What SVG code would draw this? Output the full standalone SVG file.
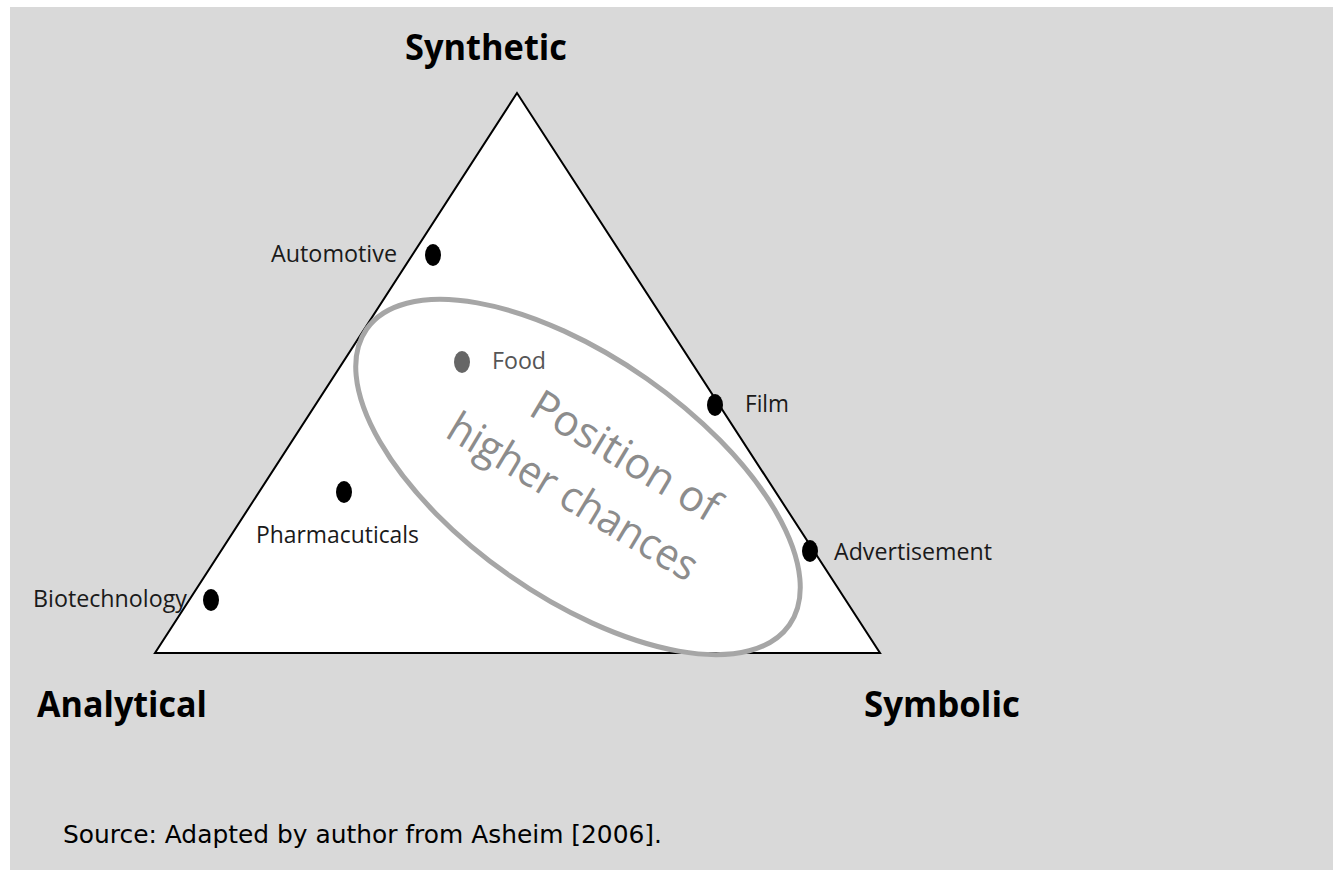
<svg xmlns="http://www.w3.org/2000/svg" width="1333" height="870" viewBox="0 0 1333 870">
<style>
.title{font-family:"Open Sans","Liberation Sans",sans-serif;font-weight:bold;font-size:36px;fill:#000}
.lbl{font-family:"Open Sans","Liberation Sans",sans-serif;font-size:23px;fill:#1a1a1a}
.dot{fill:#000}
.big{font-family:"Open Sans","Liberation Sans",sans-serif;font-size:43px;fill:#8c8c8c}
.src{font-family:"DejaVu Sans","Liberation Sans",sans-serif;font-size:25px;fill:#000}
</style>
<rect x="0" y="0" width="1333" height="870" fill="#ffffff"/>
<rect x="10" y="7" width="1323" height="863" fill="#d9d9d9"/>
<g id="triangle">
<polygon points="517,93 155,653 880,653" fill="#ffffff" stroke="#000" stroke-width="2"/>
</g>
<g id="region">
<ellipse cx="578" cy="477" rx="258" ry="120" transform="rotate(35 578 477)" fill="none" stroke="#a6a6a6" stroke-width="5"/>
<g transform="translate(527,414) rotate(31)">
<text class="big" x="0" y="0" textLength="212" lengthAdjust="spacingAndGlyphs">Position of</text>
<text class="big" x="-60" y="62" textLength="284" lengthAdjust="spacingAndGlyphs">higher chances</text>
</g>
</g>
<g id="node-synthetic"><text class="title" x="405" y="60" textLength="162" lengthAdjust="spacingAndGlyphs">Synthetic</text></g>
<g id="node-analytical"><text class="title" x="37" y="717" textLength="170" lengthAdjust="spacingAndGlyphs">Analytical</text></g>
<g id="node-symbolic"><text class="title" x="864" y="717" textLength="156" lengthAdjust="spacingAndGlyphs">Symbolic</text></g>
<g id="node-automotive"><ellipse class="dot" cx="433" cy="255" rx="8" ry="11"/><text class="lbl" x="271" y="262" textLength="126" lengthAdjust="spacingAndGlyphs">Automotive</text></g>
<g id="node-food"><ellipse cx="462" cy="362" rx="8" ry="11" fill="#666"/><text class="lbl" x="492" y="369" textLength="54" lengthAdjust="spacingAndGlyphs" style="fill:#555">Food</text></g>
<g id="node-film"><ellipse class="dot" cx="715" cy="405" rx="8" ry="11"/><text class="lbl" x="745" y="412" textLength="44" lengthAdjust="spacingAndGlyphs">Film</text></g>
<g id="node-pharma"><ellipse class="dot" cx="344" cy="492" rx="8" ry="11"/><text class="lbl" x="256" y="543" textLength="163" lengthAdjust="spacingAndGlyphs">Pharmacuticals</text></g>
<g id="node-advert"><ellipse class="dot" cx="810" cy="551" rx="8" ry="11"/><text class="lbl" x="834" y="560" textLength="158" lengthAdjust="spacingAndGlyphs">Advertisement</text></g>
<g id="node-biotech"><ellipse class="dot" cx="211" cy="600" rx="8" ry="11"/><text class="lbl" x="33" y="607" textLength="154" lengthAdjust="spacingAndGlyphs">Biotechnology</text></g>
<g id="connectors"></g>
<text class="src" x="63" y="843" textLength="599" lengthAdjust="spacingAndGlyphs">Source: Adapted by author from Asheim [2006].</text>
</svg>
